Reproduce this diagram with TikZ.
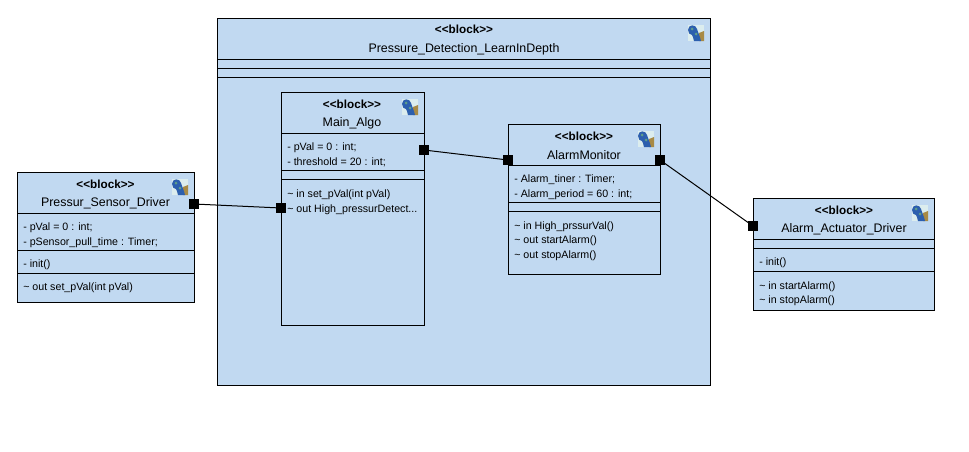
\documentclass[tikz,border=0pt]{standalone}
\usepackage{fontspec}
\setmainfont{Liberation Sans}
\usetikzlibrary{calc}
\usetikzlibrary{positioning}

\definecolor{blockfill}{HTML}{C1D9F1}
\definecolor{iconback}{HTML}{DCEDEE}
\definecolor{iconblue}{HTML}{2C5FAE}
\definecolor{icontail}{HTML}{A88A45}
\definecolor{iconspot}{HTML}{5E9E8A}

\newcommand{\blocksep}[2]{\draw[sepline] (#1.west |- 0,#2) -- (#1.east |- 0,#2);}

\begin{document}
\begin{tikzpicture}[x=0.75pt, y=-0.75pt,
    blockbox/.style={rectangle, draw=black, fill=blockfill, line width=0.75pt, inner sep=0pt, outer sep=0pt, anchor=north west},
    sepline/.style={black, line width=0.75pt},
    portbox/.style={rectangle, fill=black, inner sep=0pt, outer sep=0pt, minimum size=7.5pt},
    wire/.style={-, black, line width=0.75pt},
    stereotext/.style={font=\fontsize{8.8}{10}\selectfont\bfseries, inner sep=0pt},
    nametext/.style={font=\fontsize{9.3}{11}\selectfont, inner sep=0pt},
    membertext/.style={font=\fontsize{8}{10}\selectfont, inner sep=0pt, anchor=north west, text height=7.5pt, text depth=3pt},
    blockicon/.pic={
        \fill[iconback] (-8,-8) rectangle (8,8);
        \fill[icontail] (3,0) -- (8,-2) -- (8,8) -- (3,8) -- cycle;
        \fill[iconblue] (-8,-3) .. controls (-8,-9) and (0,-9) .. (1,-4) .. controls (2,0) and (4,3) .. (5,8) -- (-2,8) .. controls (-3,5) and (-3,3) .. (-4,2) .. controls (-6,2) and (-8,0) .. (-8,-3) -- cycle;
        \fill[iconspot] (-4,-4) circle (1.5);
        \fill[iconspot] (0,1) circle (1.5);
    }]
    \useasboundingbox (0,0) rectangle (969,451);

    % Outer block
    \node[blockbox, minimum width=369.75pt, minimum height=275.25pt] (detect) at (217.5,18.5) {};
    \blocksep{detect}{59.5}
    \blocksep{detect}{68.5}
    \blocksep{detect}{77.5}
    \node[stereotext] (detectStereo) at (464,29.5) {<{}<block>{}>};
    \node[nametext] (detectName) at (464,49) {Pressure\_Detection\_LearnInDepth};
    \pic at (696,33) {blockicon};

    % Sensor driver
    \node[blockbox, minimum width=132.75pt, minimum height=97.5pt] (sensor) at (17.5,172.5) {};
    \blocksep{sensor}{213.5}
    \blocksep{sensor}{250.5}
    \blocksep{sensor}{273.5}
    \node[stereotext] (sensorStereo) at (105.5,184) {<{}<block>{}>};
    \node[nametext] (sensorName) at (105.5,203.5) {Pressur\_Sensor\_Driver};
    \pic at (180,187) {blockicon};
    \node[membertext] (sensorAttr1) at (23,220.5) {- pVal = 0 : int;};
    \node[membertext] (sensorAttr2) [below=0pt of sensorAttr1.south west, membertext] {- pSensor\_pull\_time : Timer;};
    \node[membertext] (sensorOp1) at (23,257.5) {- init()};
    \node[membertext] (sensorRecv1) at (23,280.5) {\textasciitilde\ out set\_pVal(int pVal)};

    % Main algorithm
    \node[blockbox, minimum width=107.25pt, minimum height=174.75pt] (algo) at (281.5,92.5) {};
    \blocksep{algo}{133.5}
    \blocksep{algo}{170.5}
    \blocksep{algo}{179.5}
    \node[stereotext] (algoStereo) at (352,104) {<{}<block>{}>};
    \node[nametext] (algoName) at (352,123) {Main\_Algo};
    \pic at (410,107) {blockicon};
    \node[membertext] (algoAttr1) at (287,140.5) {- pVal = 0 : int;};
    \node[membertext] (algoAttr2) [below=0pt of algoAttr1.south west, membertext] {- threshold = 20 : int;};
    \node[membertext] (algoRecv1) at (287,187.5) {\textasciitilde\ in set\_pVal(int pVal)};
    \node[membertext] (algoRecv2) [below=0pt of algoRecv1.south west, membertext] {\textasciitilde\ out High\_pressurDetect...};

    % Alarm monitor
    \node[blockbox, minimum width=114pt, minimum height=112.5pt] (monitor) at (508.5,124.5) {};
    \blocksep{monitor}{165.5}
    \blocksep{monitor}{202.5}
    \blocksep{monitor}{211.5}
    \node[stereotext] (monitorStereo) at (584,136) {<{}<block>{}>};
    \node[nametext] (monitorName) at (584,155.5) {AlarmMonitor};
    \pic at (646,139) {blockicon};
    \node[membertext] (monitorAttr1) at (514,172.5) {- Alarm\_tiner : Timer;};
    \node[membertext] (monitorAttr2) [below=0pt of monitorAttr1.south west, membertext] {- Alarm\_period = 60 : int;};
    \node[membertext] (monitorRecv1) at (514,219) {\textasciitilde\ in High\_prssurVal()};
    \node[membertext] (monitorRecv2) [below=0pt of monitorRecv1.south west, membertext] {\textasciitilde\ out startAlarm()};
    \node[membertext] (monitorRecv3) [below=0pt of monitorRecv2.south west, membertext] {\textasciitilde\ out stopAlarm()};

    % Actuator driver
    \node[blockbox, minimum width=135.75pt, minimum height=84pt] (actuator) at (753.5,198.5) {};
    \blocksep{actuator}{239.5}
    \blocksep{actuator}{248.5}
    \blocksep{actuator}{271.5}
    \node[stereotext] (actuatorStereo) at (844,210) {<{}<block>{}>};
    \node[nametext] (actuatorName) at (844,229) {Alarm\_Actuator\_Driver};
    \pic at (920,213) {blockicon};
    \node[membertext] (actuatorOp1) at (759,255.5) {- init()};
    \node[membertext] (actuatorRecv1) at (759,279) {\textasciitilde\ in startAlarm()};
    \node[membertext] (actuatorRecv2) [below=0pt of actuatorRecv1.south west, membertext] {\textasciitilde\ in stopAlarm()};

    % Ports
    \node[portbox] (sensorOut) at (194,204) {};
    \node[portbox] (algoIn) at (281,208) {};
    \node[portbox] (algoOut) at (424,150) {};
    \node[portbox] (monitorIn) at (508,160) {};
    \node[portbox] (monitorOut) at (660,160) {};
    \node[portbox] (actuatorIn) at (753,226) {};

    \draw[wire] (sensorOut) -- (algoIn);
    \draw[wire] (algoOut) -- (monitorIn);
    \draw[wire] (monitorOut) -- (actuatorIn);

\end{tikzpicture}
\end{document}
